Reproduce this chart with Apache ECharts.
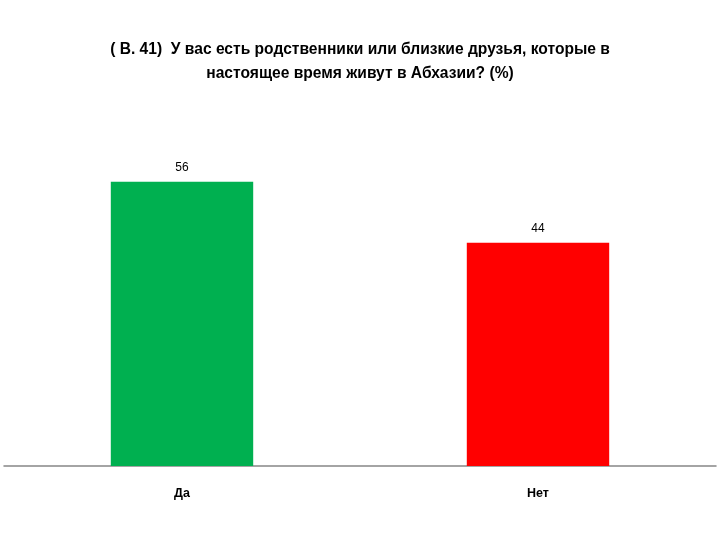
<!DOCTYPE html>
<html><head><meta charset="utf-8">
<script src="https://cdn.jsdelivr.net/npm/echarts@6/dist/echarts.min.js"></script>
<style>html,body{margin:0;padding:0;background:#fff}#c{width:720px;height:540px}</style>
</head><body><div id="c"></div>
<script>
const categories = ['Да', 'Нет'];
const values = [56, 44];
const barColors = ['#00B050', '#FF0000'];
const titleText = '( В. 41)  У вас есть родственники или близкие друзья, которые в\nнастоящее время живут в Абхазии? (%)';

const chart = echarts.init(document.getElementById('c'));
chart.setOption({
  animation: false,
  backgroundColor: '#fff',
  title: {
    text: titleText,
    left: 'center', top: 33,
    textStyle: { fontFamily: 'Liberation Sans', fontWeight: 'bold', fontSize: 15.6, lineHeight: 24, color: '#000' }
  },
  grid: { left: 4, right: 4, top: 161.4, bottom: 74 },
  xAxis: {
    type: 'category', data: categories,
    axisLine: { lineStyle: { color: '#868686', width: 1.5 } },
    axisTick: { show: false },
    axisLabel: { margin: 21, fontFamily: 'Liberation Sans', fontWeight: 'bold', fontSize: 12.5, color: '#000' }
  },
  yAxis: { type: 'value', min: 0, max: 60, show: false, splitLine: { show: false } },
  series: [{
    type: 'bar', barWidth: '40%',
    data: values.map((v, i) => ({ value: v, itemStyle: { color: barColors[i] } })),
    label: { show: true, position: 'top', distance: 8, fontFamily: 'Liberation Sans', fontSize: 12, color: '#000' }
  }]
});
</script></body></html>
